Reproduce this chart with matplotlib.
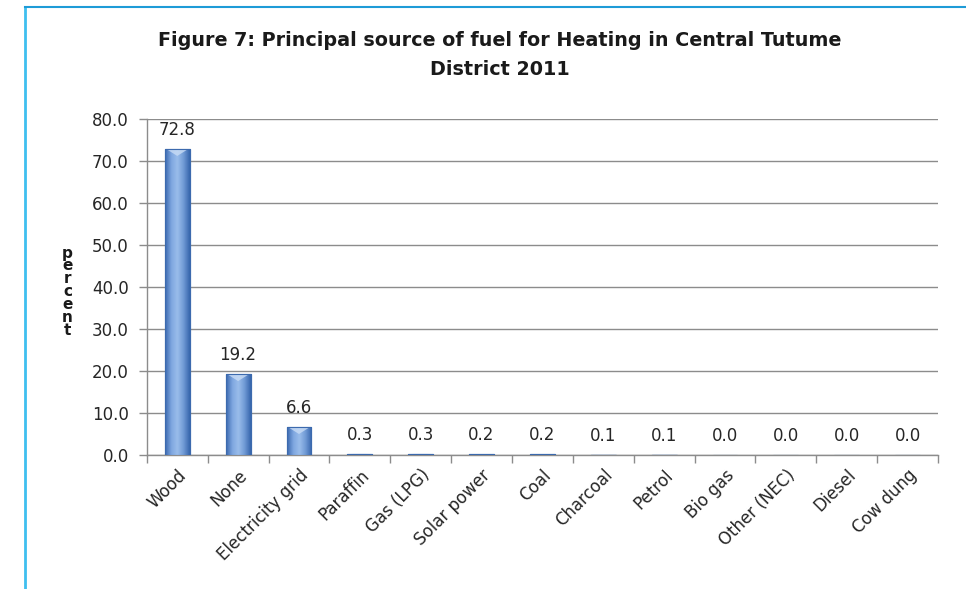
import matplotlib.pyplot as plt
import numpy as np
from matplotlib.lines import Line2D
from matplotlib.colors import LinearSegmentedColormap

# data
fuels = ["Wood", "None", "Electricity grid", "Paraffin", "Gas (LPG)", "Solar power",
         "Coal", "Charcoal", "Petrol", "Bio gas", "Other (NEC)", "Diesel", "Cow dung"]
percent = [72.8, 19.2, 6.6, 0.3, 0.3, 0.2, 0.2, 0.1, 0.1, 0.0, 0.0, 0.0, 0.0]
yticks = [0, 10, 20, 30, 40, 50, 60, 70, 80]

fig = plt.figure(figsize=(9.66, 5.89), dpi=100)
ax = fig.add_axes([0.152, 0.2275, 0.819, 0.5705])

x = np.arange(len(fuels))
bw = 0.41
bars = ax.bar(x, percent, width=bw, color="#5B8ACB", edgecolor="#3C6AAE", linewidth=0.8, zorder=3)

# gradient fill inside each bar (light centre, darker edges)
cmap = LinearSegmentedColormap.from_list("bar", ["#3A69B0", "#7EA6DF", "#9ABDEB", "#709AD5", "#3766AD"])
grad = np.tile(np.linspace(0, 1, 64), (2, 1))
for b, v in zip(bars, percent):
    if v <= 0:
        continue
    x0 = b.get_x()
    im = ax.imshow(grad, cmap=cmap, aspect="auto", extent=(x0, x0 + bw, 0, v),
                   zorder=3.5, interpolation="bicubic")
    im.set_clip_path(b)
    # small bevel at the top of the bar
    h = min(1.6, v * 0.5)
    ax.fill([x0 + 0.03, x0 + bw / 2, x0 + bw - 0.03], [v, v - h, v],
            color="#C9DCF5", alpha=0.8, zorder=3.6, lw=0)
    ax.plot([x0, x0 + bw, x0 + bw, x0, x0], [0, 0, v, v, 0], color="#3C6AAE", lw=0.8, zorder=3.7)

for xi, v in zip(x, percent):
    ax.text(xi, v + 2.4, "%.1f" % v, ha="center", va="bottom", fontsize=12, color="#262626")

ax.set_xlim(-0.5, len(fuels) - 0.5)
ax.set_ylim(0, 80)
ax.set_yticks(yticks)
ax.set_yticklabels(["%.1f" % t for t in yticks], fontsize=12, color="#262626")
ax.yaxis.grid(True, color="#8C8C8C", linewidth=1.0, zorder=0)
ax.set_axisbelow(True)

ax.set_xticks(x)
ax.set_xticklabels(fuels, rotation=45, ha="right", rotation_mode="anchor", fontsize=12, color="#262626")
ax.tick_params(axis="x", length=0, pad=8)
ax.set_xticks(np.arange(len(fuels) + 1) - 0.5, minor=True)
ax.tick_params(axis="x", which="minor", length=6, color="#8C8C8C", width=1)
ax.tick_params(axis="y", length=6, color="#8C8C8C", width=1, pad=7)

for s in ["top", "right"]:
    ax.spines[s].set_visible(False)
for s in ["left", "bottom"]:
    ax.spines[s].set_color("#8C8C8C")
    ax.spines[s].set_linewidth(1.0)

fig.text(0.517, 0.948, "Figure 7: Principal source of fuel for Heating in Central Tutume\nDistrict 2011",
         ha="center", va="top", fontsize=13.8, fontweight="bold", color="#1A1A1A", linespacing=1.7)

fig.text(0.070, 0.505, "\n".join("percent"), ha="center", va="center", fontsize=11,
         fontweight="heavy", linespacing=0.82, color="#1A1A1A")

# light blue frame lines at left and top
fig.add_artist(Line2D([25 / 966, 25 / 966], [0, 1 - 7 / 589], color="#3FBFEF", lw=2))
fig.add_artist(Line2D([25 / 966, 1], [1 - 7 / 589, 1 - 7 / 589], color="#1E9BD7", lw=1.5))

fig.savefig("out.png", dpi=100)
